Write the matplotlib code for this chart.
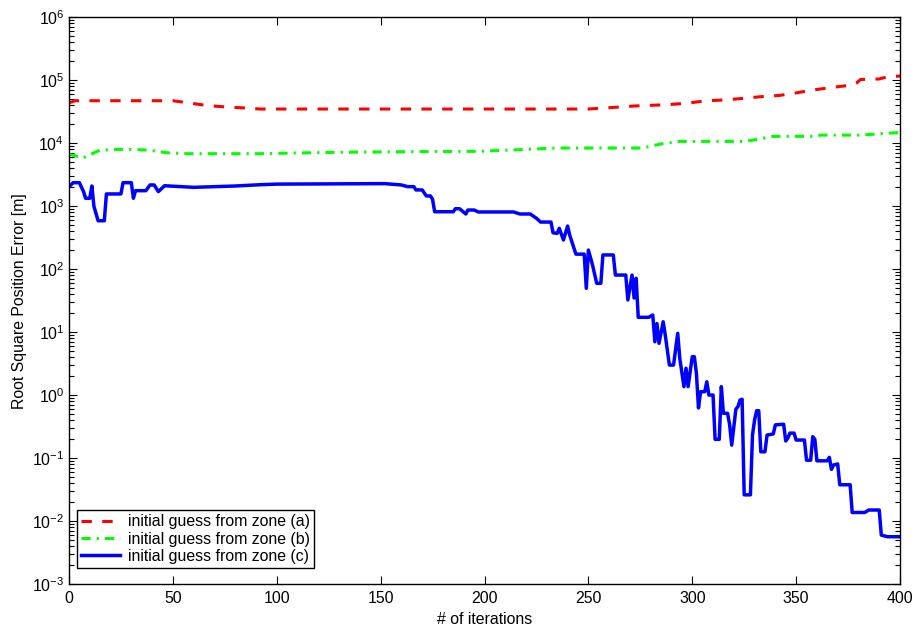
import matplotlib
matplotlib.use("Agg")
import matplotlib.pyplot as plt

plt.rcParams['font.family'] = ['Liberation Sans', 'DejaVu Sans']
plt.rcParams['mathtext.fontset'] = 'custom'
plt.rcParams['mathtext.rm'] = 'Liberation Sans'
plt.rcParams['mathtext.it'] = 'Liberation Sans:italic'
plt.rcParams['mathtext.default'] = 'regular'

# ---- data ----
red_iter = [0, 3, 50, 59, 67, 76, 85, 92, 250, 260, 272, 288, 297, 307, 315, 325,
            333, 342, 350, 358, 368, 377, 379, 381, 390, 394, 400]
red_err = [44000, 47400, 47400, 43150, 39540, 37670, 36310, 35000, 35000, 36730,
           39080, 41020, 43150, 47400, 48640, 51760, 54950, 57540, 63100, 70150,
           77600, 84140, 90000, 103000, 105000, 114000, 117000]

green_iter = [0, 7, 15, 27, 38, 47, 57, 92, 108, 129, 160, 197, 221, 235, 276, 285,
              294, 325, 329, 339, 357, 362, 381, 394, 400]
green_err = [6680, 5890, 7830, 8040, 7830, 7080, 6840, 6840, 7000, 7190, 7360, 7460,
             8040, 8410, 8410, 9770, 10720, 10720, 11220, 12880, 12880, 13490, 13490,
             14450, 14790]

blue_iter = [0, 2, 5, 7, 8, 10, 11, 12, 14, 17, 18, 25, 26, 30, 31, 32, 37, 39, 41,
             43, 46, 60, 80, 92, 100, 152, 160, 163, 166, 167, 170, 172, 174, 175,
             176, 185, 186, 188, 191, 192, 195, 197, 214, 217, 222, 225, 227, 232,
             233, 235, 236, 238, 240, 241, 244, 248, 249, 250, 252, 254, 256, 257,
             262, 263, 268, 269, 271, 272, 273, 274, 279, 281, 282, 283, 284, 286,
             287, 289, 291, 293, 294, 296, 297, 298, 300, 301, 302, 303, 304, 306,
             307, 308, 310, 311, 313, 314, 315, 317, 318, 319, 321, 322, 323, 324,
             325, 328, 329, 330, 331, 332, 333, 335, 336, 339, 340, 344, 345, 346,
             347, 349, 350, 354, 355, 357, 358, 359, 360, 365, 366, 367, 368, 370,
             371, 376, 377, 383, 385, 390, 391, 394, 400]
blue_err = [2040, 2370, 2370, 1710, 1340, 1340, 2100, 1000, 590, 590, 1570, 1570,
            2370, 2370, 1340, 1770, 1770, 2180, 2180, 1710, 2120, 2000, 2100, 2200,
            2250, 2290, 2180, 2050, 2050, 1820, 1820, 1460, 1460, 1290, 820, 820,
            915, 915, 755, 873, 873, 813, 813, 755, 755, 646, 562, 562, 380, 372,
            447, 292, 486, 350, 174, 174, 50, 202, 117, 60, 60, 169, 169, 81, 81,
            32.6, 81, 35, 72, 17.3, 17.3, 18.8, 7.08, 13.8, 6.68, 14.7, 9.06, 3.02,
            3.02, 9.64, 3.86, 1.37, 2.69, 1.37, 4.10, 4.10, 2.24, 0.631, 1.14, 1.14,
            1.64, 1.01, 1.01, 0.20, 0.20, 1.37, 0.518, 0.518, 0.339, 0.162, 0.603,
            0.661, 0.841, 0.865, 0.0263, 0.0263, 0.234, 0.407, 0.569, 0.569, 0.127,
            0.127, 0.234, 0.243, 0.339, 0.347, 0.188, 0.209, 0.251, 0.251, 0.195,
            0.195, 0.0933, 0.0933, 0.220, 0.200, 0.0912, 0.0912, 0.1035, 0.0668,
            0.0782, 0.0813, 0.038, 0.038, 0.0138, 0.0138, 0.0151, 0.0151, 0.00603,
            0.00569, 0.00569]

labels = ['initial guess from zone (a)', 'initial guess from zone (b)',
          'initial guess from zone (c)']

fs = 11.4

fig = plt.figure(figsize=(9.13, 6.28), dpi=100)
ax = fig.add_axes([69/913, (628-584.3)/628, (900-69)/913, (584.3-17.3)/628])

lw = 2.2
ax.plot(red_iter, red_err, color=(1, 0, 0), lw=lw, dashes=(3.4, 3.4), label=labels[0])
ax.plot(green_iter, green_err, color=(0, 1, 0), lw=lw, dashes=(3.0, 2.0, 0.7, 2.0), label=labels[1])
ax.plot(blue_iter, blue_err, color=(0, 0, 1), lw=lw + 0.3, label=labels[2])

ax.set_yscale('log')
ax.set_xlim(0, 400)
ax.set_ylim(1e-3, 1e6)
ax.set_xticks(range(0, 401, 50))
ax.set_yticks([10.0**k for k in range(-3, 7)])

ax.tick_params(which='both', direction='in', top=True, right=True, labelsize=fs,
               width=0.8)
ax.tick_params(which='major', length=6)
ax.tick_params(which='minor', length=3.5)
ax.tick_params(axis='x', which='minor', bottom=False, top=False)
ax.tick_params(axis='x', pad=5)
for s in ax.spines.values():
    s.set_linewidth(1.0)

ax.set_xlabel('# of iterations', fontsize=fs, labelpad=4)
ax.set_ylabel('Root Square Position Error [m]', fontsize=fs, labelpad=4)

leg = ax.legend(loc='lower left', bbox_to_anchor=(0.0093, 0.029), borderaxespad=0,
                fontsize=fs, handlelength=2.5, handletextpad=0.5,
                borderpad=0.25, labelspacing=0.15, fancybox=False,
                edgecolor='black', framealpha=1)
leg.get_frame().set_linewidth(1.0)

fig.savefig('out.png', dpi=100)
